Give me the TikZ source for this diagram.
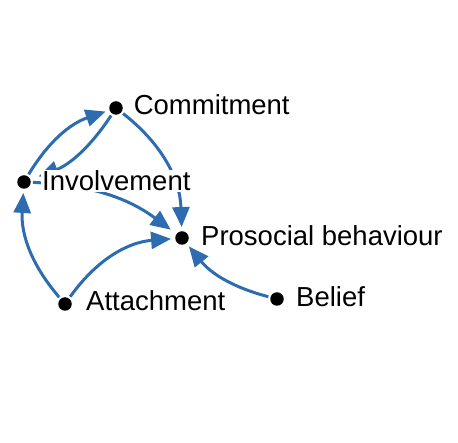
\documentclass[tikz,border=0pt]{standalone}
\usepackage{fontspec}
\setmainfont{Liberation Sans}
\usetikzlibrary{arrows.meta}
\definecolor{edgeblue}{RGB}{46,108,178}
\begin{document}
\begin{tikzpicture}[x=1pt,y=-1pt,
  dot/.style={circle,fill=black,inner sep=0pt,minimum size=13.5pt},
  lbl/.style={anchor=base west,inner sep=1pt,fill=white,font=\fontsize{27.5}{33}\selectfont},
  link/.style={draw=edgeblue,line width=3pt,-{Triangle[length=20pt,width=17pt]},shorten >=4pt,shorten <=2pt}]
\useasboundingbox (0,0) rectangle (458,443);
\node[dot] (com) at (116,108) {};
\node[dot] (inv) at (24,182) {};
\node[dot] (pro) at (182,238) {};
\node[dot] (att) at (65,304) {};
\node[dot] (bel) at (277,299) {};
\draw[link] (inv) to[bend left=20] (com);
\draw[link,shorten >=8.5pt] (com) to[bend left=18] (inv);
\draw[link] (com) to[bend left=25] (pro);
\draw[link,shorten >=7pt] (inv) to[bend left=17] (pro);
\draw[link] (att) to[bend left=22] (inv);
\draw[link] (att) to[bend left=25] (pro);
\draw[link] (bel) to[bend left=18] (pro);
\node[lbl] (lcom) at (132.6,115) {Commitment};
\node[lbl] (linv) at (41,191) {Involvement};
\node[lbl] (lpro) at (200,246) {Prosocial behaviour};
\node[lbl] (latt) at (85,311) {Attachment};
\node[lbl] (lbel) at (295,307) {Belief};
\end{tikzpicture}
\end{document}
